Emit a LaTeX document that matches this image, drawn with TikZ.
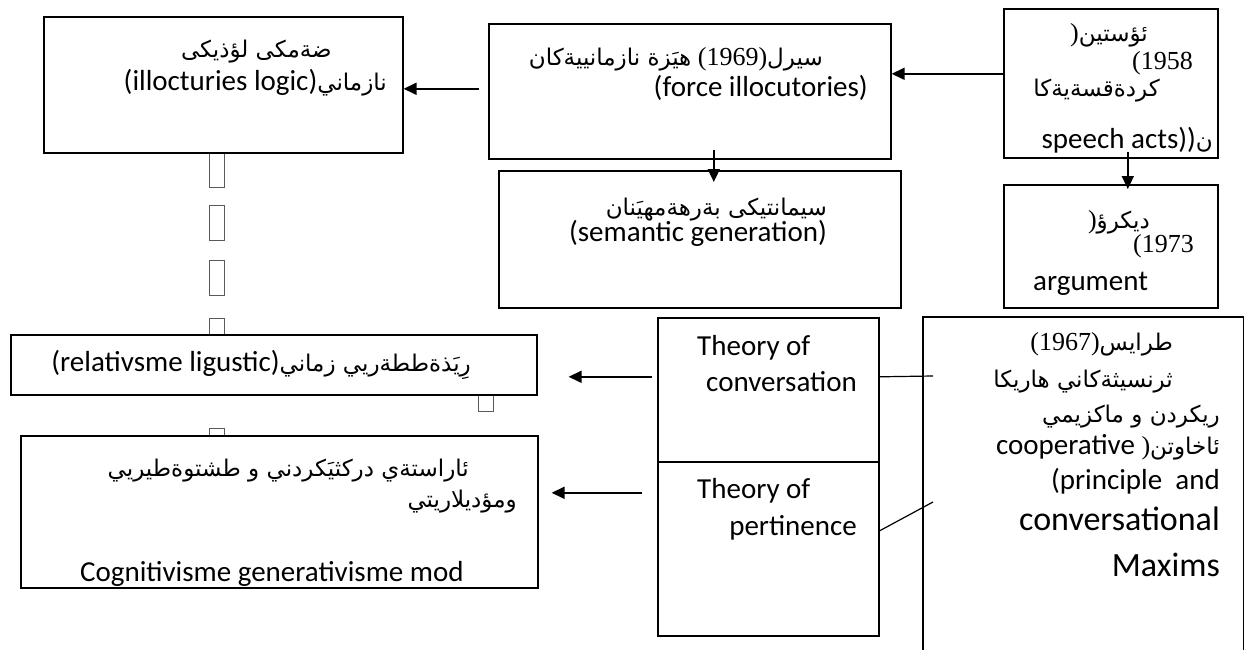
\documentclass[tikz,border=0pt]{standalone}
\usepackage{fontspec}
\setmainfont{Carlito}
\newfontfamily\arabicfont[Script=Arabic]{DejaVu Sans}
\newfontfamily\numfont{Liberation Serif}
\TeXXeTstate=1
\usetikzlibrary{arrows.meta}
\newcommand\arb[1]{{\arabicfont\fontsize{23}{28}\selectfont\beginR #1\endR}}
\newcommand\nmb[1]{{\numfont\fontsize{26}{30}\selectfont #1}}
\tikzset{
  boxnode/.style={draw, line width=1.6pt, inner sep=0pt, anchor=north west},
  arr/.style={line width=1.7pt, -{Triangle[length=13pt,width=12pt]}},
  conn/.style={line width=1.2pt},
  tofu/.style={draw=black!65, line width=0.8pt},
  txt/.style={inner sep=0pt, font=\fontsize{29}{34}\selectfont},
}
\begin{document}
\begin{tikzpicture}[x=1pt,y=-1pt]
\useasboundingbox[fill=white] (0,0) rectangle (1244,650);

% tofu marks (missing glyph boxes)
\draw[tofu] (209,153) rectangle (224,187);
\draw[tofu] (209,205) rectangle (224,240);
\draw[tofu] (209,260) rectangle (224,295);
\draw[tofu] (209,318) rectangle (224,334);
\draw[tofu] (209,428) rectangle (224,435);
\draw[tofu] (478,394) rectangle (493,411);

% boxes
\node[boxnode, minimum width=359pt, minimum height=136pt] (tl)  at (43,16)   {};
\node[boxnode, minimum width=402pt, minimum height=135pt] (sea) at (488,23)  {};
\node[boxnode, minimum width=214pt, minimum height=149pt] (aus) at (1003,8)  {};
\node[boxnode, minimum width=402pt, minimum height=137pt] (sem) at (498,170) {};
\node[boxnode, minimum width=214pt, minimum height=123pt] (duc) at (1003,184){};
\node[boxnode, minimum width=526pt, minimum height=60pt]  (rel) at (10,334)  {};
\node[boxnode, minimum width=517pt, minimum height=152pt] (cog) at (20,435)  {};
\node[boxnode, minimum width=221pt, minimum height=144pt] (thc) at (657,317) {};
\node[boxnode, minimum width=221pt, minimum height=174pt] (thp) at (657,461) {};
\node[boxnode, draw=none, minimum width=319pt, minimum height=340pt] (gri) at (923,317) {};
\draw[line width=1.6pt] (gri.south west) -- (gri.north west) -- (gri.north east) -- (gri.south east);

% connectors
\draw[arr] ([yshift=9.5pt]aus.west) -- ([yshift=17.5pt]sea.east);
\draw[arr] ([xshift=-9pt,yshift=2.5pt]sea.west) -- ([yshift=-4pt]tl.east);
\draw[arr] ([xshift=24pt,yshift=10pt]sea.south) -- ([xshift=14pt,yshift=-12pt]sem.north);
\draw[arr] ([xshift=17pt,yshift=7pt]aus.south) -- ([xshift=17pt,yshift=-5pt]duc.north);
\draw[arr] ([xshift=-5pt,yshift=13pt]thc.west) -- ([xshift=31pt,yshift=-12pt]rel.east);
\draw[arr] ([xshift=-15pt,yshift=56pt]thp.west) -- ([xshift=13pt,yshift=19pt]cog.east);
\draw[conn] ([yshift=13pt]thc.east) -- ([xshift=10pt,yshift=-59pt]gri.north west);
\draw[conn] ([yshift=18pt]thp.east) -- ([xshift=10pt,yshift=-185pt]gri.north west);

% texts: top-left
\node[txt, anchor=base east] (tl1) at (332,58) {\arb{ضةمكى لؤذيكى}};
\node[txt, anchor=base east] (tl2) at (387,91) {(illocturies logic)\arb{نازماني}};
% Searle
\node[txt, anchor=base east] (sea1) at (823,66) {\arb{هيَزة نازمانييةكان} \nmb{(1969)}\arb{سيرل}};
\node[txt, anchor=base east] (sea2) at (868,97) {(force illocutories)};
% Austin
\node[txt, anchor=base east] (aus1) at (1148,42) {\nmb{)}\arb{ئؤستين}};
\node[txt, anchor=base east] (aus2) at (1193,70) {\nmb{(1958}};
\node[txt, anchor=base east] (aus3) at (1160,97) {\arb{كردةقسةيةكا}};
\begin{scope}
\clip (aus.south west) rectangle (aus.north east);
\node[txt, anchor=base east] (aus4) at (1213,149) {speech acts))\arb{ن}};
\end{scope}
% semantic
\node[txt, anchor=base east] (sem1) at (827,215) {\arb{سيمانتيكى بةرهةمهيَنان}};
\node[txt, anchor=base east] (sem2) at (827,241) {(semantic generation)};
% Ducrot
\node[txt, anchor=base east] (duc1) at (1150,228) {\nmb{)}\arb{ديكرؤ}};
\node[txt, anchor=base east] (duc2) at (1194,252) {\nmb{(1973}};
\node[txt, anchor=base west] (duc3) at (1033,290) {argument};
% relativism
\node[txt, anchor=base east] (rel1) at (471,371) {(relativsme ligustic)\arb{رِيَذةططةريي زماني}};
% cognitive
\node[txt, anchor=base east] (cog1) at (469,476) {\arb{ئاراستةي دركثيَكردني و طشتوةطيريي}};
\node[txt, anchor=base east] (cog2) at (517,507) {\arb{ومؤديلاريتي}};
\begin{scope}
\clip (cog.south west) rectangle (cog.north east);
\node[txt, anchor=base west] (cog3) at (80,581) {Cognitivisme generativisme mod};
\end{scope}
% theories
\node[txt, anchor=base west] (thc1) at (697,355) {Theory of};
\node[txt, anchor=base east] (thc2) at (857,391) {conversation};
\node[txt, anchor=base west] (thp1) at (697,498) {Theory of};
\node[txt, anchor=base east] (thp2) at (857,535) {pertinence};
% Grice
\node[txt, anchor=base east] (gr1) at (1173,350) {\nmb{(1967)}\arb{طرايس}};
\node[txt, anchor=base east] (gr2) at (1173,387) {\arb{ثرنسيثةكاني هاريكا}};
\node[txt, anchor=base east] (gr3) at (1220,422) {\arb{ريكردن و ماكزيمي}};
\node[txt, anchor=base east] (gr4) at (1220,454) {cooperative \nmb{)}\arb{ئاخاوتن}};
\node[txt, anchor=base east] (gr5) at (1220,489) {(principle\ \ and};
\node[txt, anchor=base east, font=\fontsize{34}{40}\selectfont] (gr6) at (1220,530) {conversational};
\node[txt, anchor=base east, font=\fontsize{34}{40}\selectfont] (gr7) at (1220,576) {Maxims};
\end{tikzpicture}
\end{document}
